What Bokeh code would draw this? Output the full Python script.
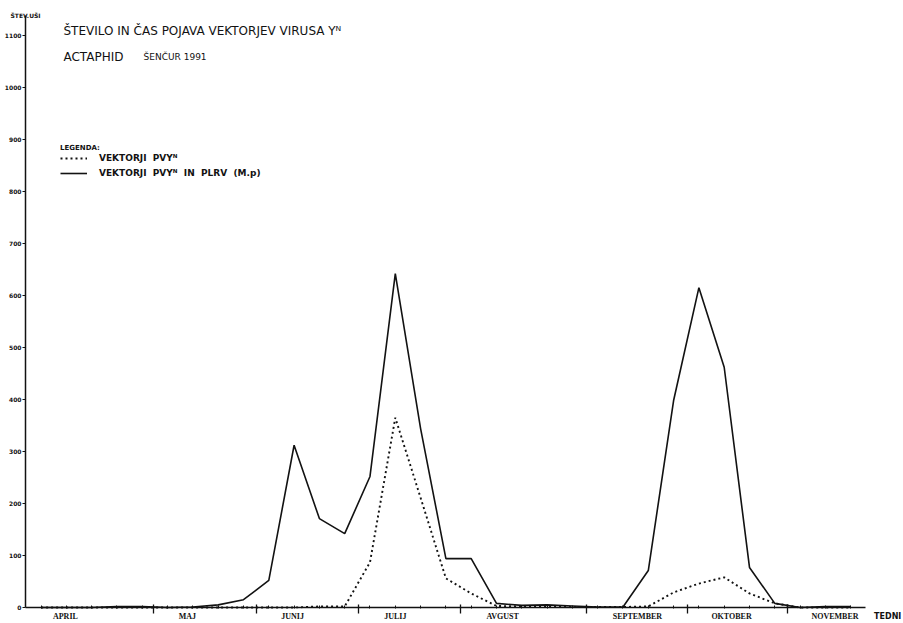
from bokeh.plotting import figure
from bokeh.models import (Range1d, FixedTicker, Label, LabelSet, ColumnDataSource,
                          Legend, LegendItem, LinearAxis)
from bokeh.embed import file_html
from bokeh.resources import INLINE

# ---- data ----
weeks = [1, 2, 3, 4, 5, 6, 7, 8, 9, 10, 11, 12, 13, 14, 15, 16, 17,
         18, 19, 20, 21, 22, 23, 24, 25, 26, 27, 28, 29, 30, 31, 32, 33]
pvy_plrv = [0, 0, 0, 2, 2, 0, 1, 5, 15, 52, 312, 171, 142, 252, 642, 344, 94,
            94, 8, 4, 5, 3, 1, 1, 71, 398, 615, 462, 77, 8, 0, 2, 2]
pvy = [0, 0, 0, 0, 0, 0, 0, 0, 0, 0, 0, 2, 2, 87, 365, 211, 56,
       27, 3, 2, 2, 1, 1, 1, 2, 29, 46, 58, 27, 8, 0, 0, 0]

y_ticks = [0, 100, 200, 300, 400, 500, 600, 700, 800, 900, 1000, 1100]
month_names = ["APRIL", "MAJ", "JUNIJ", "JULIJ", "AVGUST", "SEPTEMBER", "OKTOBER", "NOVEMBER"]
month_centers = [1.96, 6.78, 10.94, 15.0, 19.24, 24.57, 28.29, 32.38]
month_bounds = [5.44, 9.51, 13.54, 17.58, 22.56, 26.55, 30.5]

title_1 = "ŠTEVILO  IN  ČAS  POJAVA  VEKTORJEV  VIRUSA  Yᴺ"
title_2a = "ACTAPHID"
title_2b = "ŠENČUR  1991"
y_label = "ŠTEV.UŠI"
x_label = "TEDNI"
legend_title = "LEGENDA:"
legend_labels = ["VEKTORJI  PVYᴺ", "VEKTORJI  PVYᴺ  IN  PLRV  (M.p)"]

INK = "#121212"
FONT = "DejaVu Sans"

p = figure(width=903, height=623, output_backend="svg", toolbar_location=None,
           x_range=Range1d(-0.6047, 35.087), y_range=Range1d(-30.77, 1167.3),
           x_axis_type=None, y_axis_type=None, min_border=0)
p.background_fill_color = "white"
p.border_fill_color = "white"
p.outline_line_color = None
p.grid.visible = False

# y axis, drawn at the left end of the week scale
ya = LinearAxis(fixed_location=0.3834, bounds=(0, 1138.5),
                ticker=FixedTicker(ticks=y_ticks, minor_ticks=[]))
ya.axis_line_color = INK
ya.axis_line_width = 1.5
ya.major_tick_line_color = INK
ya.major_tick_line_width = 1.2
ya.major_tick_in = 0
ya.major_tick_out = 3
ya.major_label_standoff = 1
ya.major_label_text_font = FONT
ya.major_label_text_font_size = "6px"
ya.major_label_text_font_style = "bold"
ya.major_label_text_color = INK
p.add_layout(ya, "left")

# x axis at y = 0 (month boundaries as major ticks, weeks as minor ticks)
xa = LinearAxis(fixed_location=0, bounds=(0.3834, 33.58),
                ticker=FixedTicker(ticks=month_bounds, minor_ticks=weeks))
xa.axis_line_color = INK
xa.axis_line_width = 1.5
xa.major_tick_line_color = INK
xa.major_tick_line_width = 1.3
xa.major_tick_in = 3
xa.major_tick_out = 6
xa.minor_tick_line_color = INK
xa.minor_tick_line_width = 1
xa.minor_tick_in = 2
xa.minor_tick_out = 1
xa.major_label_text_font_size = "1px"
xa.major_label_text_color = None
xa.major_label_standoff = 0
p.add_layout(xa, "below")

# series
r_solid = p.line(weeks, pvy_plrv, line_color=INK, line_width=1.6)
r_dot = p.line(weeks, pvy, line_color=INK, line_width=1.9, line_dash="2 3")

# month labels under the axis
msrc = ColumnDataSource(dict(x=month_centers, y=[-7.7] * len(month_centers), t=month_names))
p.add_layout(LabelSet(x="x", y="y", text="t", source=msrc, text_align="center",
                      text_baseline="top", text_font=FONT, text_font_size="8px",
                      text_font_style="bold", text_color=INK))
p.add_layout(Label(x=35.0, y=-7.7, text=x_label, text_align="right", text_baseline="top",
                   text_font=FONT, text_font_size="8px", text_font_style="bold",
                   text_color=INK))

# y label and titles
p.add_layout(Label(x=-0.21, y=1138.5, text=y_label, text_align="left", text_baseline="middle",
                   text_font=FONT, text_font_size="6px", text_font_style="bold",
                   text_color=INK))
p.add_layout(Label(x=1.885, y=1107.7, text=title_1, text_align="left", text_baseline="middle",
                   text_font=FONT, text_font_size="12px", text_color=INK))
p.add_layout(Label(x=1.885, y=1057.7, text=title_2a, text_align="left", text_baseline="middle",
                   text_font=FONT, text_font_size="12px", text_color=INK))
p.add_layout(Label(x=5.05, y=1057.7, text=title_2b, text_align="left", text_baseline="middle",
                   text_font=FONT, text_font_size="9px", text_color=INK))

# legend
legend = Legend(title=legend_title,
                items=[LegendItem(label=legend_labels[0], renderers=[r_dot]),
                       LegendItem(label=legend_labels[1], renderers=[r_solid])],
                location=(60, 444))
legend.border_line_color = None
legend.background_fill_alpha = 0
legend.padding = 0
legend.margin = 0
legend.spacing = 3
legend.label_height = 12
legend.glyph_height = 12
legend.glyph_width = 27
legend.label_standoff = 12
legend.label_text_font = FONT
legend.label_text_font_size = "9px"
legend.label_text_font_style = "bold"
legend.label_text_color = INK
legend.title_text_font = FONT
legend.title_text_font_size = "7px"
legend.title_text_font_style = "bold"
legend.title_text_color = INK
legend.title_standoff = 0
p.add_layout(legend)

open("out.html", "w").write(file_html(p, INLINE))
